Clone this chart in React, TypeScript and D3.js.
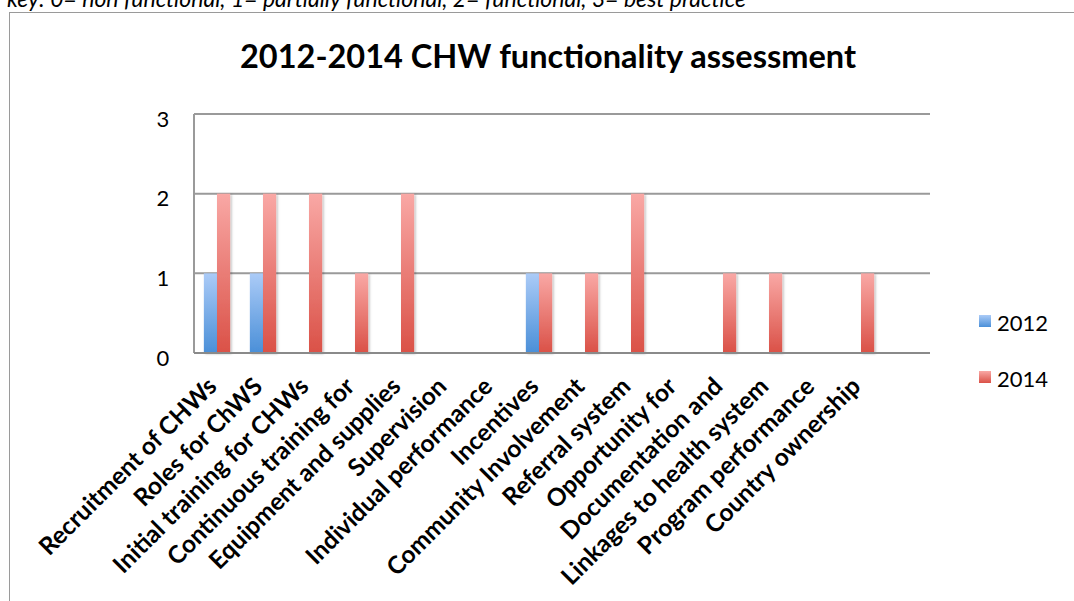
import React from "react";
import * as d3 from "d3";

const categories = [
  "Recruitment of CHWs",
  "Roles for ChWS",
  "Initial training for CHWs",
  "Continuous training for",
  "Equipment and supplies",
  "Supervision",
  "Individual performance",
  "Incentives",
  "Community Involvement",
  "Referral system",
  "Opportunity for",
  "Documentation and",
  "Linkages to health system",
  "Program performance",
  "Country ownership",
  "",
];
const values2012 = [1, 1, 0, 0, 0, 0, 0, 1, 0, 0, 0, 0, 0, 0, 0, 0];
const values2014 = [2, 2, 2, 1, 2, 0, 0, 1, 1, 2, 0, 1, 1, 0, 1, 0];
const seriesNames = ["2012", "2014"];
const yTicks = [0, 1, 2, 3];
const title = "2012-2014 CHW functionality assessment";
const keyText = "key: 0= non functional, 1= partially functional, 2= functional, 3= best practice";

const FONT = "Lato, 'Open Sans', sans-serif";

export default function App() {
  const W = 1074, H = 601;
  const left = 194, right = 930, top = 114, bottom = 353;
  const x = d3.scaleBand<string>().domain(categories.map((c, i) => i + "")).range([left, right]).paddingInner(0).paddingOuter(0);
  const y = d3.scaleLinear().domain([0, 3]).range([bottom, top]);
  const bw = x.bandwidth();
  const barW = bw / 3.5;
  const series = [values2012, values2014];
  const grads = ["g2012", "g2014"];

  return (
    <svg width={W} height={H} style={{ position: "absolute", left: 0, top: 0 }} fontFamily={FONT}>
      <defs>
        <linearGradient id="g2012" x1="0" y1="0" x2="0" y2="1">
          <stop offset="0" stopColor="#abcbf7" />
          <stop offset="1" stopColor="#4a8fd8" />
        </linearGradient>
        <linearGradient id="g2014" x1="0" y1="0" x2="0" y2="1">
          <stop offset="0" stopColor="#f9a8a5" />
          <stop offset="1" stopColor="#da5147" />
        </linearGradient>
        <filter id="shadow" x="-50%" y="-10%" width="200%" height="130%">
          <feDropShadow dx="1.5" dy="1" stdDeviation="1.2" floodColor="#000" floodOpacity="0.25" />
        </filter>
      </defs>
      <rect width={W} height={H} fill="#fff" />
      <text x={7} y={7} fontSize={23} fontStyle="italic" fill="#000">{keyText}</text>
      <rect x={9.5} y={12.5} width={W + 10} height={H + 10} fill="none" stroke="#9a9a9a" strokeWidth={1} />
      <text x={548} y={68} textAnchor="middle" fontSize={32.5} fontWeight="bold" fill="#000">{title}</text>

      {yTicks.map((t) => (
        <g key={t}>
          <line x1={left} x2={right} y1={y(t)} y2={y(t)} stroke="#9a9a9a" strokeWidth={2} />
          <text x={163} y={y(t) + 4} textAnchor="middle" dominantBaseline="central" fontSize={22} fill="#000">{t}</text>
        </g>
      ))}
      <line x1={left} x2={left} y1={top} y2={bottom} stroke="#9a9a9a" strokeWidth={2} />

      {categories.map((c, i) => {
        const cx = (x(i + "") as number) + bw / 2;
        return series.map((vals, s) => {
          const v = vals[i];
          if (!v) return null;
          const bx = s === 0 ? cx - barW : cx;
          return (
            <rect key={c + s} x={bx} y={y(v)} width={barW} height={y(0) - y(v)} fill={`url(#${grads[s]})`} filter="url(#shadow)" />
          );
        });
      })}
      <line x1={left} x2={right} y1={bottom} y2={bottom} stroke="#8a8a8a" strokeWidth={2} />

      {categories.map((c, i) => {
        const cx = (x(i + "") as number) + bw / 2;
        const ax = cx + 1, ay = 388;
        return (
          <text key={i} x={ax} y={ay} transform={`rotate(-45 ${ax} ${ay})`} textAnchor="end" fontSize={24.5} fontWeight="bold" fill="#000">{c}</text>
        );
      })}

      {seriesNames.map((n, s) => (
        <g key={n}>
          <rect x={979} y={315 + s * 56} width={12} height={12} fill={`url(#${grads[s]})`} />
          <text x={997} y={331 + s * 56} fontSize={22} fill="#000">{n}</text>
        </g>
      ))}
    </svg>
  );
}
